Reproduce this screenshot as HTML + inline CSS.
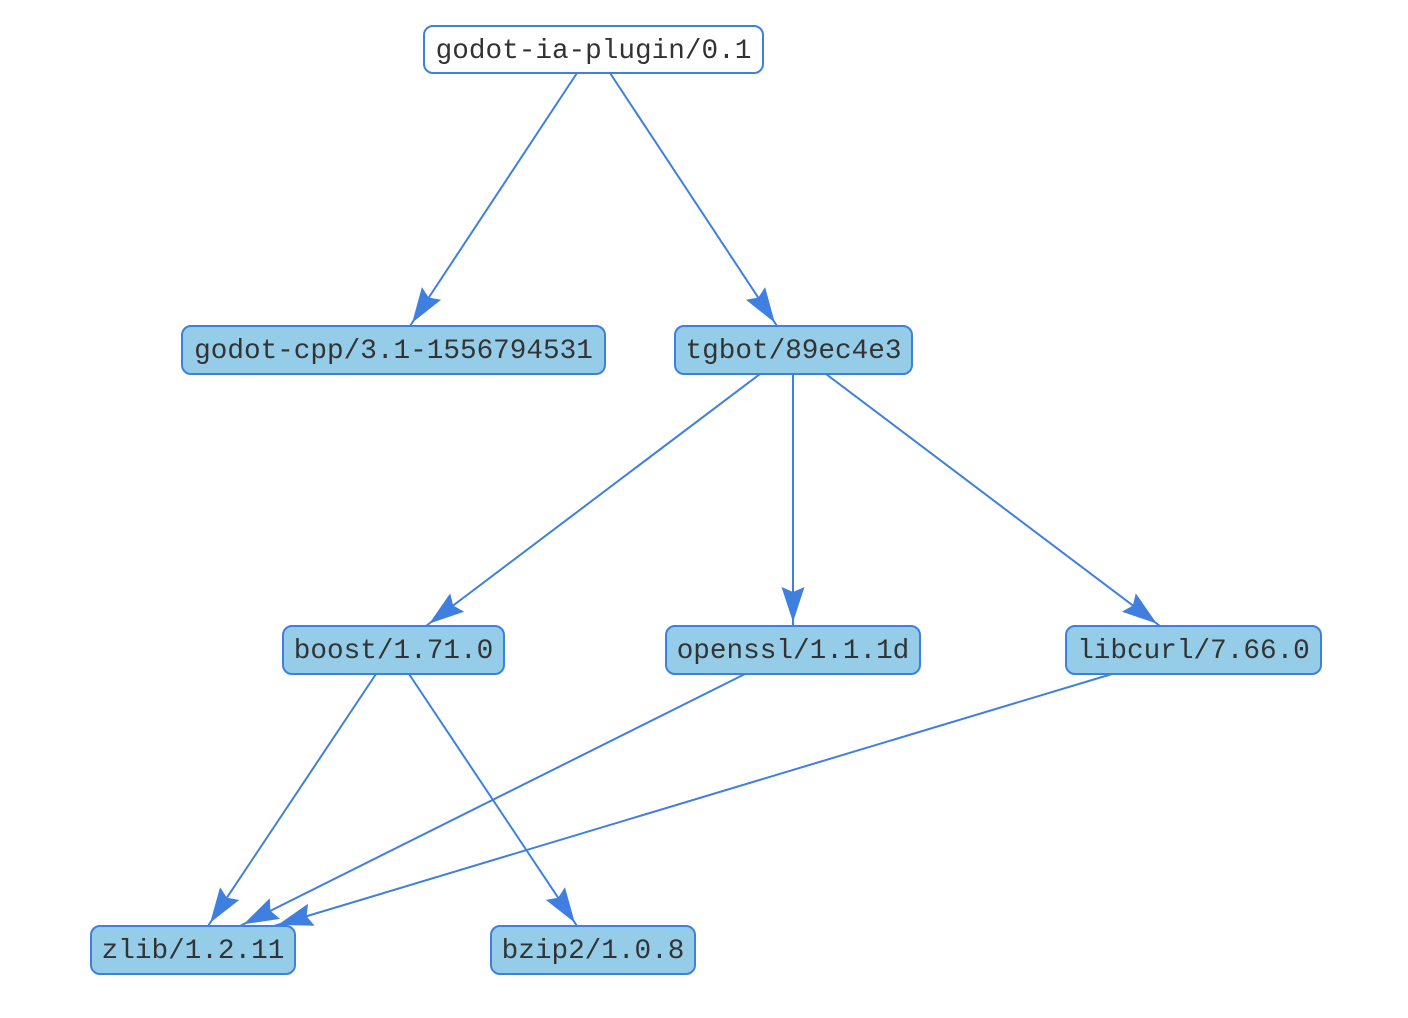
<!DOCTYPE html>
<html><head><meta charset="utf-8"><style>
html,body{margin:0;padding:0;background:#fff;}
svg{display:block;}
text{font-family:"Liberation Mono","DejaVu Sans Mono",monospace;font-size:27.7px;fill:#333;}
</style></head><body>
<svg width="1408" height="1018" viewBox="0 0 1408 1018" xmlns="http://www.w3.org/2000/svg">
<defs>
<marker id="ah" markerUnits="userSpaceOnUse" markerWidth="40" markerHeight="24" viewBox="0 0 40 24" refX="39" refY="11.5" orient="auto">
<path d="M0,0 L35,11.5 L0,23 L5,11.5 Z" fill="#3f7fe0"/>
</marker>
</defs>
<g stroke="#3f7fe0" stroke-width="2" fill="none" marker-end="url(#ah)">
<line x1="577" y1="73" x2="410" y2="326"/>
<line x1="610" y1="73" x2="777" y2="326"/>
<line x1="760" y1="374" x2="426" y2="626"/>
<line x1="793" y1="374" x2="793" y2="626"/>
<line x1="826" y1="374" x2="1160" y2="626"/>
<line x1="376" y1="674" x2="208" y2="926"/>
<line x1="409" y1="674" x2="577" y2="926"/>
<line x1="745" y1="674" x2="240" y2="926"/>
<line x1="1112" y1="674" x2="274" y2="926"/>
</g>
<g stroke="#3f7fe0" stroke-width="2">
<rect x="424" y="26" width="339" height="47" rx="9" fill="#ffffff"/>
<rect x="182" y="326" width="423" height="48" rx="9" fill="#95cde9"/>
<rect x="675" y="326" width="237" height="48" rx="9" fill="#95cde9"/>
<rect x="283" y="626" width="221" height="48" rx="9" fill="#95cde9"/>
<rect x="666" y="626" width="254" height="48" rx="9" fill="#95cde9"/>
<rect x="1066" y="626" width="255" height="48" rx="9" fill="#95cde9"/>
<rect x="91" y="926" width="204" height="48" rx="9" fill="#95cde9"/>
<rect x="491" y="926" width="204" height="48" rx="9" fill="#95cde9"/>
</g>
<g text-anchor="middle">
<text x="593.5" y="58">godot-ia-plugin/0.1</text>
<text x="393.5" y="358">godot-cpp/3.1-1556794531</text>
<text x="793.5" y="358">tgbot/89ec4e3</text>
<text x="393.5" y="658">boost/1.71.0</text>
<text x="793" y="658">openssl/1.1.1d</text>
<text x="1193.5" y="658">libcurl/7.66.0</text>
<text x="193" y="958">zlib/1.2.11</text>
<text x="593" y="958">bzip2/1.0.8</text>
</g>
</svg>
</body></html>
